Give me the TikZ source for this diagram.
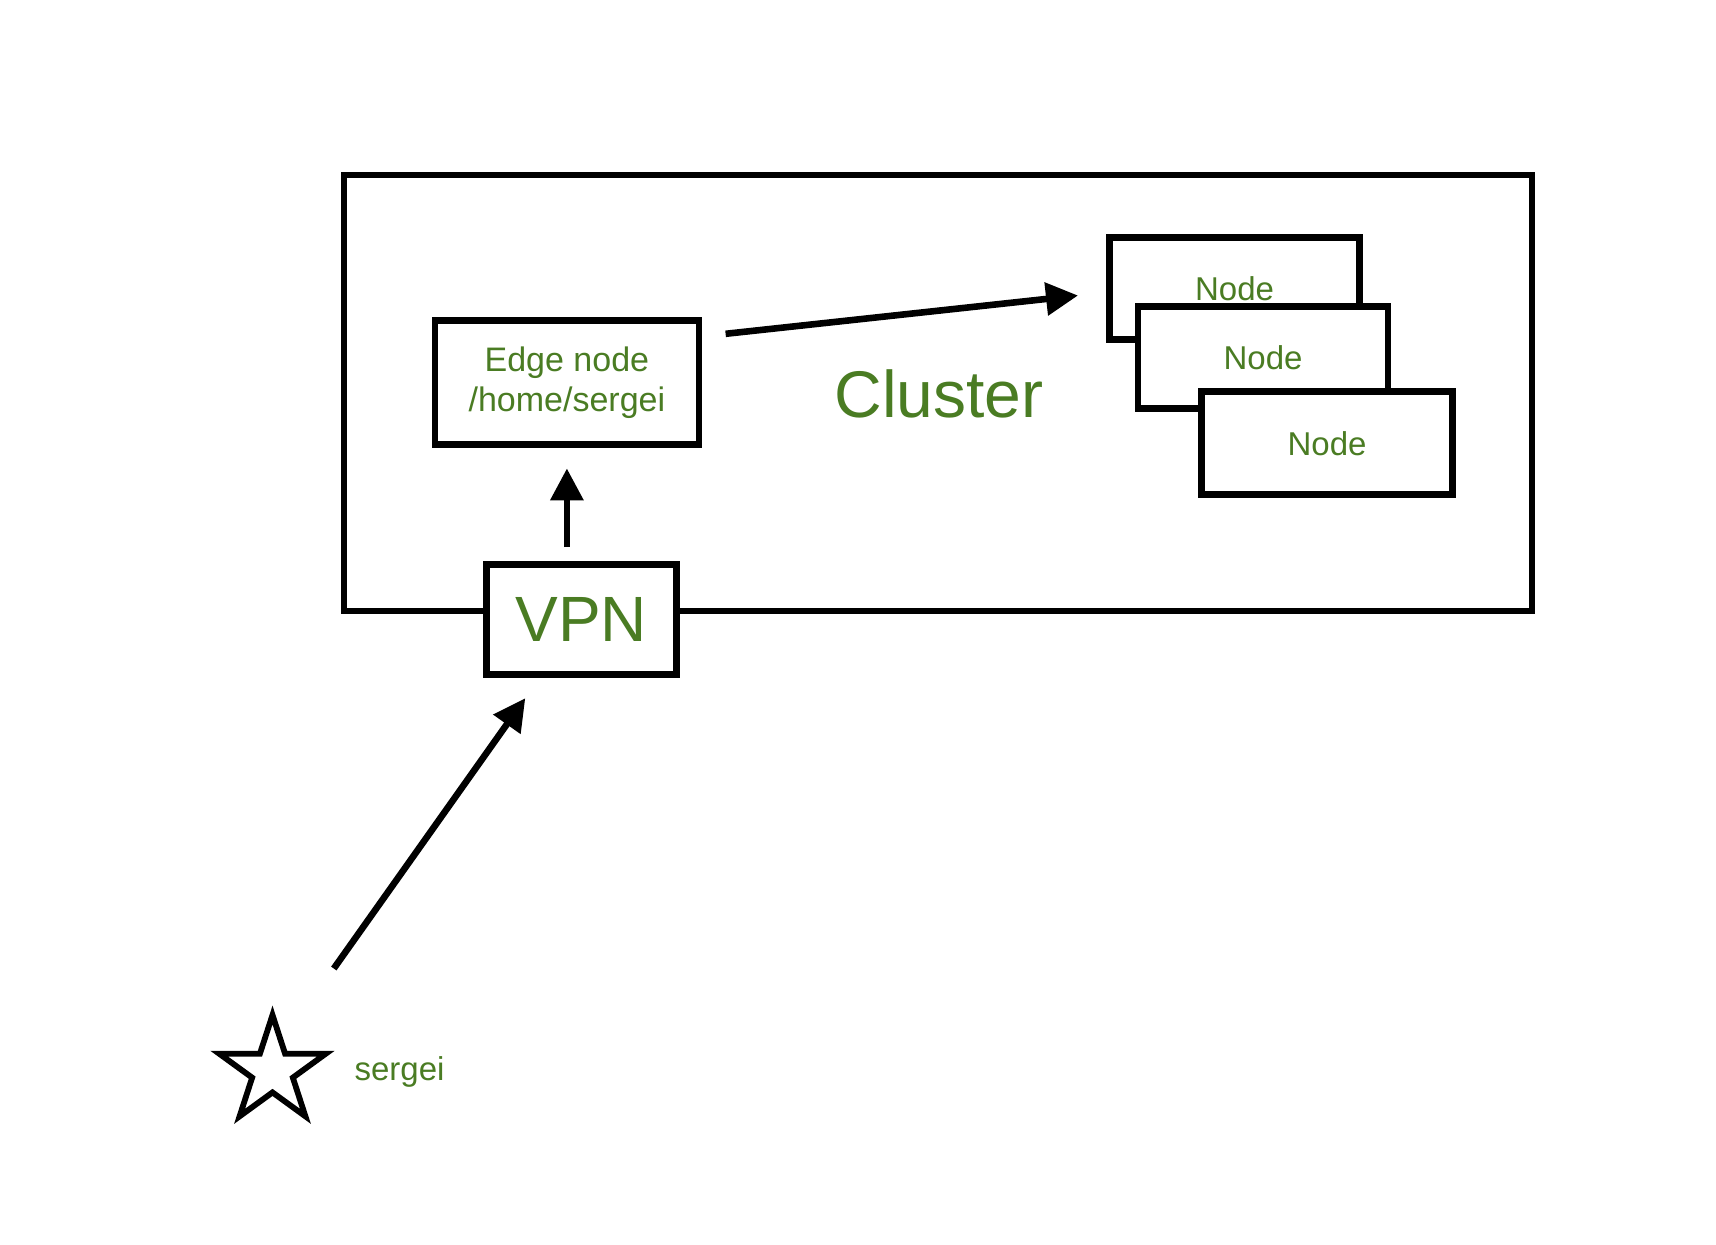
\documentclass[tikz,border=0pt]{standalone}
\usepackage{fontspec}
\setmainfont{Liberation Sans}
\usetikzlibrary{arrows.meta,calc}
\definecolor{txtgreen}{HTML}{4A7C23}
\tikzset{
  box/.style={draw=black, line width=3.4pt, fill=white, rectangle, inner sep=0pt, text=txtgreen},
  conn/.style={line width=3.3pt, -{Triangle[length=16pt,width=16pt]}},
}
\begin{document}
\begin{tikzpicture}[x=0.5pt,y=-0.5pt]
\useasboundingbox (0,0) rectangle (1716,1244);
% cluster frame
\node[box, fill=none, minimum width=594pt, minimum height=218pt] (cluster) at (937.9,392.9) {};
\node[text=txtgreen, font=\fontsize{33}{36}\selectfont] (clabel) at (939,394) {Cluster};
% edge node
\node[box, minimum width=132pt, minimum height=62pt, align=center, font=\fontsize{17}{20}\selectfont] (edge) at (566.9,382.5) {Edge node\\/home/sergei};
% VPN
\node[box, minimum width=95pt, minimum height=55pt, font=\fontsize{32}{36}\selectfont] (vpn) at (581.1,619.5) {VPN};
% nodes
\node[box, minimum width=125pt, minimum height=51pt, font=\fontsize{16.5}{19}\selectfont] (n1) at (1234.5,288.4) {Node};
\node[box, minimum width=125pt, minimum height=51pt, font=\fontsize{16.5}{19}\selectfont] (n2) at (1263,357.3) {Node};
\node[box, minimum width=125.5pt, minimum height=51.5pt, font=\fontsize{16.5}{19}\selectfont] (n3) at (1327,443.3) {Node};
% star (user)
\coordinate (starc) at (272.5,1071);
\draw[line width=2.9pt, line join=miter]
  ($(starc)+(90:-56)$) \foreach \i in {1,...,9} {
    -- ($(starc)+({90+36*\i}:{-56*(mod(\i,2)==1 ? 0.382 : 1)})$) } -- cycle;
\node[text=txtgreen, font=\fontsize{16.5}{19}\selectfont] (user) at (399.5,1071.5) {sergei};
% connectors
\coordinate (s1) at (333.8,968.5);
\coordinate (s2) at (525.3,698.2);
\draw[conn] (s1) -- (s2);
\coordinate (v1) at (566.9,547.2);
\coordinate (v2) at (566.9,468.4);
\draw[conn] (v1) -- (v2);
\coordinate (e1) at (725.6,333.8);
\coordinate (e2) at (1078,295.5);
\draw[conn] (e1) -- (e2);
\end{tikzpicture}
\end{document}
